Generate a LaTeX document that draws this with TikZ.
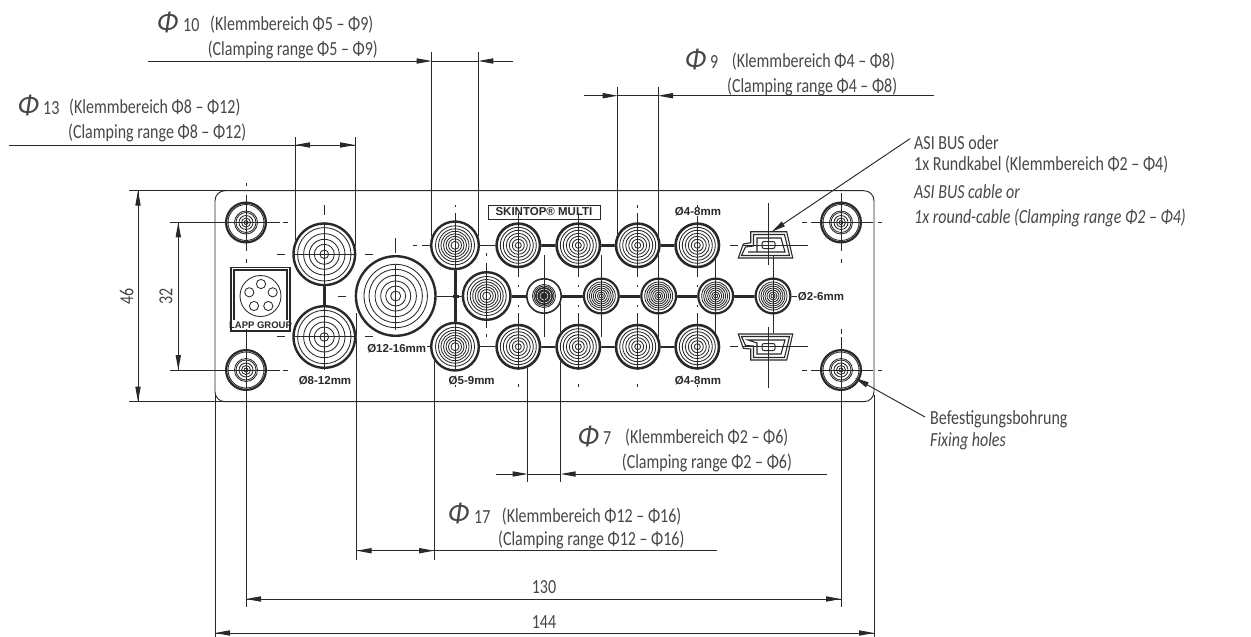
\documentclass[tikz,border=0pt]{standalone}
\usepackage{fontspec}
\usetikzlibrary{arrows.meta,calc}
\setmainfont{Carlito}
\newfontfamily\dimfont[FakeStretch=0.8,ItalicFont={Carlito Italic}]{Carlito}
\newfontfamily\phifont[FakeSlant=0.15]{Carlito}
\newfontfamily\platefont{Liberation Sans}
\definecolor{ink}{gray}{0.16}
\definecolor{txt}{gray}{0.28}
\tikzset{
  thin line/.style={draw=ink,line width=0.95pt},
  center line/.style={draw=ink,line width=0.85pt},
  dim tip/.style={thin line,-{Triangle[length=15pt,width=5.2pt]},shorten >=0pt},
  label text/.style={text=txt,font=\dimfont\fontsize{20}{24}\selectfont,anchor=west,inner sep=0pt},
  big phi/.style={text=txt,font=\phifont\fontsize{28}{30}\selectfont,anchor=west,inner sep=0pt},
  plate text/.style={text=ink,font=\platefont\bfseries\fontsize{11.5}{13}\selectfont,inner sep=0pt},
  measure/.style={text=txt,font=\dimfont\fontsize{20}{24}\selectfont,inner sep=0pt},
  thick joint/.style={draw=ink,line width=3pt},
  mid joint/.style={draw=ink,line width=2pt}
}
% hole: name, x, y, outer radius, outer width, inner radii
\newcommand{\holeat}[6]{%
  \coordinate (#1) at (#2,#3);
  \fill[white] (#1) circle (#4pt);
  \draw[draw=ink,line width=#5pt] (#1) circle ({(#4-#5/2)*1pt});
  \foreach \rr in {#6}{\draw[draw=ink,line width=0.85pt] (#1) circle (\rr pt);}
}
% dimension with outside arrows: name, ext1 x, ext2 x, left end, right end, y
\newcommand{\dimout}[6]{%
  \coordinate (#1a) at (#2,#6); \coordinate (#1b) at (#3,#6);
  \coordinate (#1l) at (#4,#6); \coordinate (#1r) at (#5,#6);
  \draw[dim tip] (#1l) -- (#1a);
  \draw[dim tip] (#1r) -- (#1b);
  \draw[thin line] (#1a) -- (#1b);
}
\newcommand{\dimin}[6]{%
  \coordinate (#1a) at (#2,#6); \coordinate (#1b) at (#3,#6);
  \coordinate (#1l) at (#4,#6); \coordinate (#1r) at (#5,#6);
  \draw[dim tip] (#1b) -- (#1a);
  \draw[dim tip] (#1a) -- (#1b);
  \draw[thin line] (#1l) -- (#1a); \draw[thin line] (#1b) -- (#1r);
}
\begin{document}
\begin{tikzpicture}[x=1pt,y=-1pt]
\useasboundingbox (0,0) rectangle (1251,637);
\fill[white] (0,0) rectangle (1251,637);

% plate
\draw[thin line,rounded corners=10pt] (215,190.7) rectangle (874,401.7);

% extension lines
\draw[thin line] (129,190.7) -- (860,190.7);
\draw[thin line] (129,401.7) -- (860,401.7);
\draw[thin line] (170,222.3) -- (225,222.3);
\draw[thin line] (170,370) -- (225,370);
\draw[thin line] (215,395) -- (215,637);
\draw[thin line] (874,395) -- (874,637);
\draw[thin line] (246,333) -- (246,607);
\draw[thin line] (841,337) -- (841,607);
\draw[thin line] (295,137) -- (295,254);
\draw[thin line] (355,137) -- (355,254);
\draw[thin line] (431.7,52) -- (431.7,245);
\draw[thin line] (478.3,52) -- (478.3,245);
\draw[thin line] (617.7,87) -- (617.7,245);
\draw[thin line] (658,87) -- (658,245);
\draw[thin line] (527.7,350) -- (527.7,482);
\draw[thin line] (560.7,300) -- (560.7,482);
\draw[thin line] (356.7,313) -- (356.7,560);
\draw[thin line] (434,357) -- (434,560);

% joints beneath the holes
\draw[thick joint] (518.3,245.3) -- (697.3,245.3);
\draw[thick joint] (506,296) -- (755,296);
\draw[mid joint] (518.3,346.7) -- (697.3,346.7);
\draw[thick joint] (455,245.3) -- (455,346.7);
\draw[thick joint] (324.3,254.3) -- (324.3,337);
\draw[center line] (338,296) -- (346,296);
\draw[center line] (362,296) -- (830,296);
\draw[thick joint] (453,296) -- (459,296);
\draw[center line] (422,245.3) -- (720,245.3);
\draw[center line] (413,245.3) -- (417,245.3);
\draw[center line] (730,245.3) -- (738,245.3);
\draw[center line] (422,346.7) -- (720,346.7);
\draw[center line] (730,346.7) -- (738,346.7);

% fixing holes
\holeat{fa}{246}{222.5}{21}{2.2}{18,11.5,10,7,4.5,2}
\holeat{fb}{246}{370}{21}{2.2}{18,11.5,10,7,4.5,2}
\holeat{fc}{841}{222.5}{21}{2.2}{18,11.5,10,7,4.5,2}
\holeat{fd}{841}{370}{21}{2.2}{18,11.5,10,7,4.5,2}
% M-holes
\holeat{ua}{324.3}{254.3}{32}{2.4}{26.7,20.7,15,10,4.3}
\holeat{ub}{324.3}{337}{32}{2.4}{26.7,20.7,15,10,4.3}
\holeat{big}{395.7}{296}{41}{2.4}{31.7,26.7,20.7,15,10,5}
\holeat{ta}{455}{245.3}{25}{2.4}{19.5,16.5,14,11.5,9,6.5,4}
\holeat{tb}{455}{346.7}{25}{2.4}{19.5,16.5,14,11.5,9,6.5,4}
\holeat{tc}{486.7}{296}{25}{2.4}{19.5,16.5,14,11.5,9,6.5,4}
\foreach \cx/\nm in {518.3/ra,578.3/rb,637.7/rc,697.3/rd}{
  \holeat{\nm t}{\cx}{245.3}{23}{2.6}{18,15,12,9,6,3}
  \holeat{\nm b}{\cx}{346.7}{23}{2.6}{18,15,12,9,6,3}
}
\holeat{sa}{544}{296}{18}{1.6}{11.5,10,8,6,4,2}
\foreach \cx/\nm in {601.3/sb,658.7/sc,715.7/sd,773/se}{
  \holeat{\nm}{\cx}{296}{18.5}{2.2}{14,12,10,8,6,4,2}
}
\fill[ink] (544,296) circle (9pt);
\draw[white,line width=0.5pt] (544,296) circle (7pt) circle (4pt);

% connector outlines
\begin{scope}
\draw[ink,line width=1.1pt] (738.3,258) -- (743.3,244) -- (750.7,242.7) -- (750.7,231.7) -- (786.7,231.7) -- (792.7,258) -- cycle;
\draw[ink,line width=1.1pt] (741.5,255.5) -- (745.5,247) -- (753.5,246) -- (753.5,234.5) -- (784.5,234.5) -- (789.5,255.5) -- cycle;
\draw[ink,line width=1.1pt] (748,252) -- (757,252) -- (757,238) -- (781,238) -- (785,252) -- cycle;
\draw[ink,line width=1pt,rounded corners=2pt] (762,241.5) rectangle (775,248.5);
\draw[ink,line width=1.1pt] (738.3,334) -- (792.7,334) -- (786.7,360) -- (750.7,360) -- (750.7,349) -- (743.3,348.3) -- cycle;
\draw[ink,line width=1.1pt] (741.5,336.5) -- (789.5,336.5) -- (784.5,357.5) -- (753.5,357.5) -- (753.5,346) -- (745.5,345.5) -- cycle;
\draw[ink,line width=1.1pt] (748,340) -- (785,340) -- (781,354) -- (757,354) -- (757,343) -- cycle;
\draw[ink,line width=1pt,rounded corners=2pt] (762,343.5) rectangle (775,350.5);
\end{scope}

% centre lines through holes and connectors
\draw[center line] (743,245.3) -- (808,245.3);
\draw[center line] (743,346.7) -- (808,346.7);
\draw[center line] (768.3,203) -- (768.3,265);
\draw[center line] (768.3,327) -- (768.3,388);
\draw[center line] (773,255) -- (773,333);
% horizontal, fixing holes
\foreach \yy in {222.5,370}{
  \draw[center line] (225,\yy) -- (280,\yy);
  \draw[center line] (283,\yy) -- (288,\yy);
  \draw[center line] (802,\yy) -- (807,\yy);
  \draw[center line] (811,\yy) -- (873,\yy);
  \draw[center line] (878,\yy) -- (882,\yy);
  \draw[center line] (246,\yy-28) -- (246,\yy+28);
  \draw[center line] (841,\yy-30) -- (841,\yy+28);
}
\draw[center line] (246,183) -- (246,186);
\draw[center line] (246,259) -- (246,263);
\draw[center line] (841,259) -- (841,263);
\draw[center line] (246,329) -- (246,333);
\draw[center line] (841,329) -- (841,334);
% horizontal, big glands
\foreach \yy in {254.3,336.7}{
  \draw[center line] (277,\yy) -- (285,\yy);
  \draw[center line] (293,\yy) -- (356,\yy);
  \draw[center line] (365,\yy) -- (373,\yy);
}
\draw[center line] (324.3,205) -- (324.3,215);
\draw[center line] (324.3,222) -- (324.3,370);
\draw[center line] (395.7,238) -- (395.7,253);
\draw[center line] (395.7,265) -- (395.7,330);
\draw[center line] (455,205) -- (455,207);
\draw[center line] (455,213) -- (455,370);
\draw[center line] (455,384) -- (455,387);
\draw[center line] (486.7,253) -- (486.7,256);
\draw[center line] (486.7,263) -- (486.7,328);
\draw[center line] (486.7,334) -- (486.7,337);
\foreach \cx in {518.3,578.3,637.7,697.3}{
  \draw[center line] (\cx,205) -- (\cx,208);
  \draw[center line] (\cx,213) -- (\cx,277);
  \draw[center line] (\cx,285) -- (\cx,287);
  \draw[center line] (\cx,305) -- (\cx,307);
  \draw[center line] (\cx,313) -- (\cx,370);
  \draw[center line] (\cx,384) -- (\cx,387);
}
\foreach \cx in {544,601.3,658.7,715.7}{
  \draw[center line] (\cx,255) -- (\cx,337);
}

% plate labels
\node[plate text,draw=ink,line width=1pt,minimum width=112pt,minimum height=14pt,fill=white] (brand) at (544,212) {SKINTOP® MULTI};
\draw[center line] (518.3,213) -- (518.3,222);
\draw[center line] (578.3,213) -- (578.3,222);
\node[plate text,fill=white,inner xsep=1pt] (l1) at (698,212) {Ø4-8mm};
\node[plate text,fill=white,inner xsep=1pt] (l2) at (698,380.7) {Ø4-8mm};
\node[plate text,fill=white,inner xsep=1pt] (l3) at (821,296.7) {Ø2-6mm};
\node[plate text,fill=white,inner xsep=1pt] (l4) at (471.7,380.7) {Ø5-9mm};
\node[plate text,fill=white,inner xsep=1pt] (l5) at (325,380.7) {Ø8-12mm};
\node[plate text,fill=white,inner xsep=1pt] (l6) at (396.7,348.7) {Ø12-16mm};

% LAPP box
\draw[draw=ink,line width=1.4pt] (231,267.3) rectangle (290,331);
\draw[draw=ink,line width=1.6pt] (287.5,270) -- (234,270) -- (234,320);
\draw[draw=ink,line width=1.6pt] (287,270) -- (287,320);
\coordinate (lp) at (260.5,296);
\draw[draw=ink,line width=0.85pt] (lp) circle (20.5pt);
\foreach \hx/\hy in {261/284,249.3/292.3,272.7/292.3,254/306,268.3/306}{
  \draw[draw=ink,line width=0.85pt] (\hx,\hy) circle (4.6pt);
}
\node[plate text,font=\platefont\bfseries\fontsize{9.5}{11}\selectfont] (lapp) at (260.5,325) {LAPP GROUP};

% dimensions
\dimout{dten}{431.7}{478.3}{147.7}{513}{61}
\dimin{dthi}{295}{355}{8.6}{355}{145}
\dimout{dnin}{617.7}{658}{584}{934}{95.7}
\dimout{dsev}{527.7}{560.7}{495.7}{827}{474}
\dimin{dsvt}{356.7}{434}{356.7}{716.7}{550.7}

\coordinate (ha) at (246,599); \coordinate (hb) at (841,599);
\draw[dim tip] (hb) -- (ha); \draw[dim tip] (ha) -- (hb);
\coordinate (ia) at (215,633); \coordinate (ib) at (874,633);
\draw[dim tip] (ib) -- (ia); \draw[dim tip] (ia) -- (ib);
\coordinate (va) at (138,190.7); \coordinate (vb) at (138,401.7);
\draw[dim tip] (vb) -- (va); \draw[dim tip] (va) -- (vb);
\coordinate (wa) at (178.3,222.3); \coordinate (wb) at (178.3,370);
\draw[dim tip] (wb) -- (wa); \draw[dim tip] (wa) -- (wb);

\node[measure] (n130) at (544,587) {130};
\node[measure] (n144) at (544,622) {144};
\node[measure,rotate=90] (n46) at (126.7,296) {46};
\node[measure,rotate=90] (n32) at (166,296) {32};

% text labels
\node[big phi] (p10) at (156,23) {Φ};
\node[label text] (n10) at (183,25) {10};
\node[label text] (k10) at (210,25) {(Klemmbereich Φ5 – Φ9)};
\node[label text] (c10) at (207.6,50) {(Clamping range Φ5 – Φ9)};

\node[big phi] (p13) at (16.6,106) {Φ};
\node[label text] (n13) at (43,108) {13};
\node[label text] (k13) at (69,108) {(Klemmbereich Φ8 – Φ12)};
\node[label text] (c13) at (68,133) {(Clamping range Φ8 – Φ12)};

\node[big phi] (p9) at (684,60) {Φ};
\node[label text] (n9) at (710,62) {9};
\node[label text] (k9) at (731.7,62) {(Klemmbereich Φ4 – Φ8)};
\node[label text] (c9) at (727,87) {(Clamping range Φ4 – Φ8)};

\node[big phi] (p7) at (576.7,436.7) {Φ};
\node[label text] (n7) at (603,438) {7};
\node[label text] (k7) at (625,438) {(Klemmbereich Φ2 – Φ6)};
\node[label text] (c7) at (621.7,463) {(Clamping range Φ2 – Φ6)};

\node[big phi] (p17) at (447,514) {Φ};
\node[label text] (n17) at (474,516.7) {17};
\node[label text] (k17) at (501.7,516.7) {(Klemmbereich Φ12 – Φ16)};
\node[label text] (c17) at (498,540) {(Clamping range Φ12 – Φ16)};

\node[label text] (as1) at (914,142.7) {ASI BUS oder};
\node[label text] (as2) at (914,165) {1x Rundkabel (Klemmbereich Φ2 – Φ4)};
\node[label text] (as3) at (914,191.7) {\itshape ASI BUS cable or};
\node[label text] (as4) at (914,218) {\itshape 1x round-cable (Clamping range Φ2 – Φ4)};
\node[label text] (fx1) at (930,419) {Befestigungsbohrung};
\node[label text] (fx2) at (930,441.7) {\itshape Fixing holes};

% leaders
\coordinate (asitip) at (771.7,231.7);
\coordinate (fixtip) at (855,378);
\draw[dim tip,-{Triangle[length=14pt,width=5.5pt]}] (as1.west) ++(-4,-4) -- (asitip);
\draw[dim tip,-{Triangle[length=14pt,width=5.5pt]}] (fx1.west) ++(-5,-2) -- (fixtip);
\end{tikzpicture}
\end{document}
